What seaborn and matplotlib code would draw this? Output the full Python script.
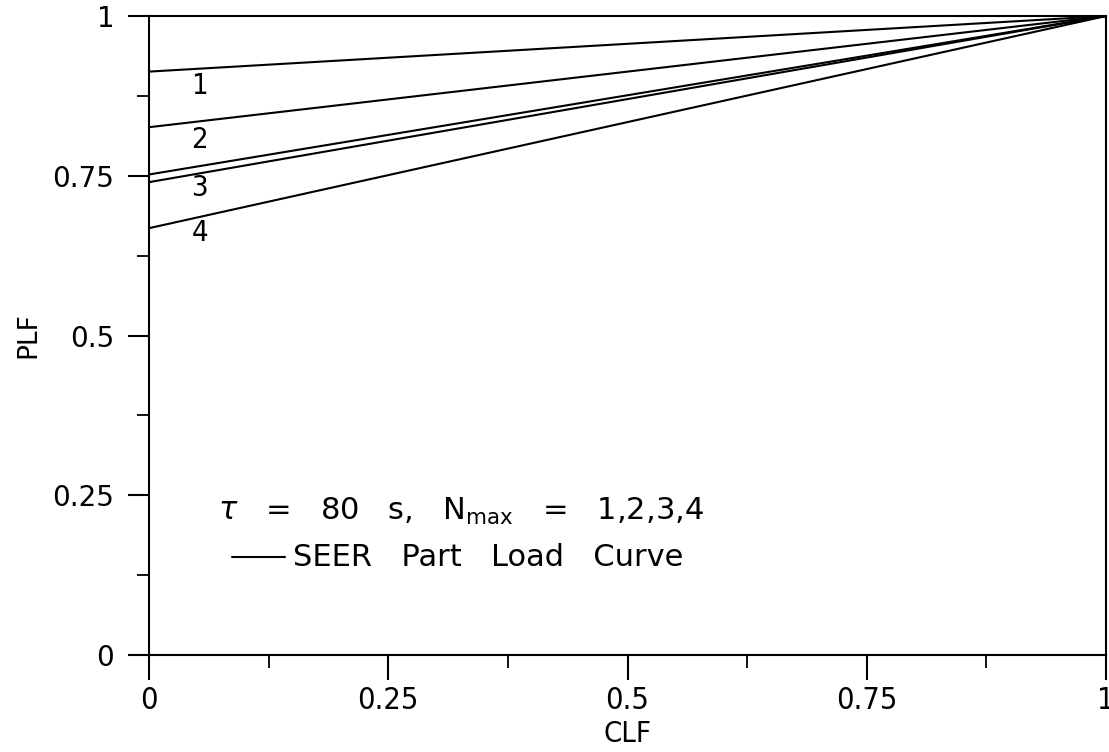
import matplotlib
matplotlib.use("Agg")
import matplotlib.pyplot as plt
import seaborn as sns
import pandas as pd
from matplotlib.ticker import MultipleLocator

# Data
clf_points = [0.0, 1.0]
series_names = ["1", "2", "SEER", "3", "4"]
plf_start = [0.913, 0.826, 0.752, 0.740, 0.668]
plf_end = [1.0, 1.0, 1.0, 1.0, 1.0]
curve_labels = ["1", "2", "3", "4"]
curve_label_y = [0.890, 0.806, 0.731, 0.661]
x_ticks = [0, 0.25, 0.5, 0.75, 1]
x_tick_labels = ["0", "0.25", "0.5", "0.75", "1"]
y_ticks = [0, 0.25, 0.5, 0.75, 1]
y_tick_labels = ["0", "0.25", "0.5", "0.75", "1"]

rows = []
for name, a, b in zip(series_names, plf_start, plf_end):
    rows.append({"series": name, "CLF": clf_points[0], "PLF": a})
    rows.append({"series": name, "CLF": clf_points[1], "PLF": b})
df = pd.DataFrame(rows)

sns.set_style("ticks")
plt.rcParams["font.family"] = ["DejaVu Sans"]
plt.rcParams["text.color"] = "black"
plt.rcParams["axes.labelcolor"] = "black"
plt.rcParams["xtick.color"] = "black"
plt.rcParams["ytick.color"] = "black"

fig = plt.figure(figsize=(11.09, 7.52), dpi=100)
ax = fig.add_axes([0.1344, 0.129, 0.9973 - 0.1344, 0.9787 - 0.129])

sns.lineplot(data=df, x="CLF", y="PLF", units="series", estimator=None,
             color="black", linewidth=1.5, ax=ax, legend=False)

ax.set_xlim(0, 1)
ax.set_ylim(0, 1)
ax.set_xticks(x_ticks)
ax.set_xticklabels(x_tick_labels, fontstretch="condensed", fontsize=22)
ax.set_yticks(y_ticks)
ax.set_yticklabels(y_tick_labels, fontsize=20)
ax.xaxis.set_minor_locator(MultipleLocator(0.125))
ax.yaxis.set_minor_locator(MultipleLocator(0.125))
ax.tick_params(axis="x", which="major", direction="out", length=18, width=1.5,
               pad=4, colors="black")
ax.tick_params(axis="x", which="minor", direction="out", length=9, width=1.3)
ax.tick_params(axis="y", which="major", direction="out", length=15, width=1.5,
               pad=10, colors="black")
ax.tick_params(axis="y", which="minor", direction="out", length=9, width=1.3)
for s in ax.spines.values():
    s.set_linewidth(1.5)
    s.set_color("black")

ax.set_xlabel("CLF", fontsize=21, fontstretch="condensed", labelpad=4)
ax.set_ylabel("PLF", fontsize=19, labelpad=8)

for lab, yv in zip(curve_labels, curve_label_y):
    ax.text(0.053, yv, lab, fontsize=21, ha="center", va="center",
            fontstretch="condensed")

ax.text(0.072, 0.224, r"$\tau$   =   80   s,   N$_{\rm max}$   =   1,2,3,4",
        fontsize=22, ha="left", va="center")
ax.plot([0.087, 0.142], [0.153, 0.153], color="black", linewidth=1.5)
ax.text(0.150, 0.153, "SEER   Part   Load   Curve", fontsize=22,
        ha="left", va="center")

fig.savefig("out.png", dpi=100, facecolor="white")
